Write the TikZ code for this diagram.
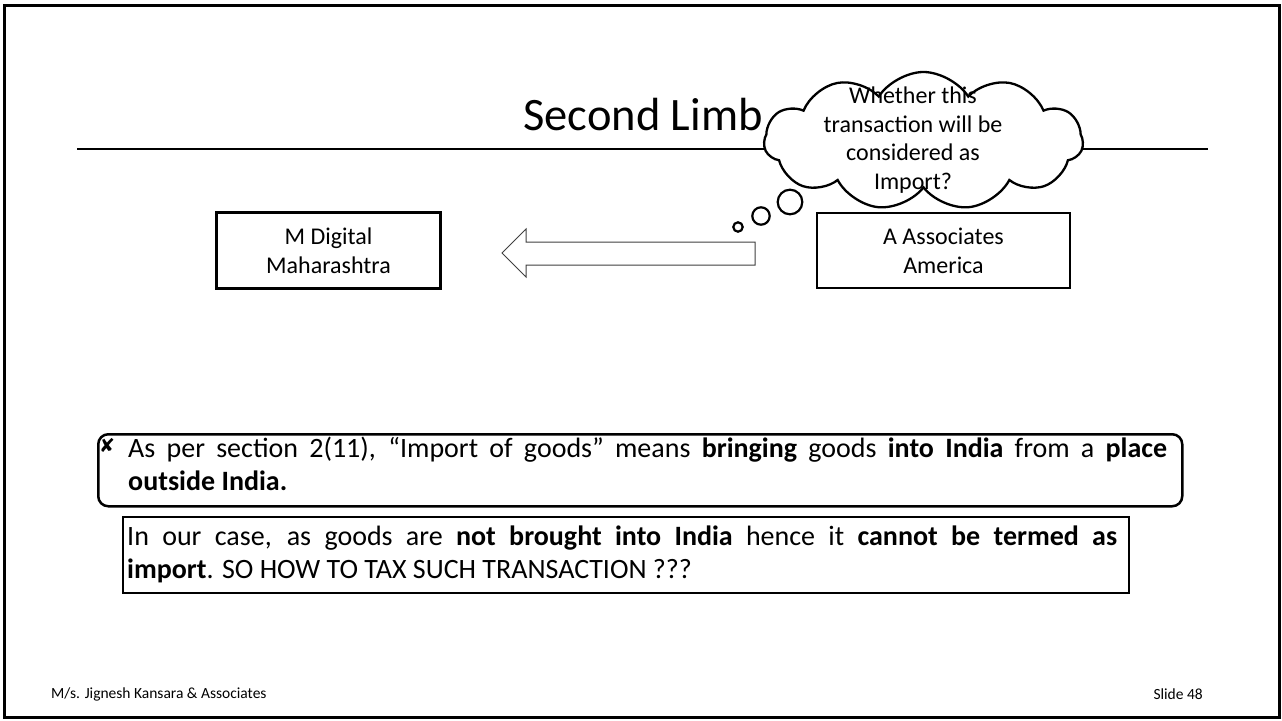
\documentclass[tikz,border=0pt]{standalone}
\usepackage{fontspec}
\setmainfont{Carlito}
\newfontfamily\symfont{DejaVu Sans}
\usetikzlibrary{shapes.symbols}

\tikzset{
  entity/.style={draw, line width=2.5pt, inner sep=0pt, align=center,
    font=\fontsize{24}{29}\selectfont},
  bubble/.style={circle, draw, line width=2.2pt, inner sep=0pt},
  blockarrow/.style={draw=black!75, line width=1pt, fill=white},
  bodytext/.style={inner sep=0pt, align=justify,
    font=\fontsize{28}{33}\selectfont},
}

\begin{document}
\begin{tikzpicture}[x=1pt, y=-1pt]
\useasboundingbox (0,0) rectangle (1282,720);

% slide frame
\draw[line width=3pt] (4.7,5.7) rectangle (1279.5,717);

% heading and rule
\node[anchor=base east, inner sep=0pt, font=\fontsize{46.5}{54}\selectfont]
  (title) at (763,130) {Second Limb};
\coordinate (ruleL) at (77,149);
\coordinate (ruleR) at (1208,149);
\draw[line width=2.6pt] (ruleL) -- (ruleR);

% thought cloud
\node[cloud, draw, fill=white, line width=2.3pt, cloud puffs=11,
  cloud puff arc=115, aspect=2.31, minimum width=319pt,
  minimum height=138pt, inner sep=0pt] (cloud) at (923.5,141) {};
\node[align=center, inner sep=0pt, font=\fontsize{24}{28.5}\selectfont]
  (cloudtext) at (913,140)
  {Whether this\\transaction will be\\considered as\\Import?};

% parties
\node[entity, minimum width=224pt, minimum height=76pt] (mdig) at (328.5,250.5)
  {M Digital\\Maharashtra};
\node[entity, minimum width=253pt, minimum height=75pt] (aassoc) at (943.5,250.5)
  {A Associates\\America};

% thought bubbles rising from A Associates
\node[bubble, minimum size=9.4pt]  (b1) at (738,227) {};
\node[bubble, minimum size=17.4pt] (b2) at (761,216) {};
\node[bubble, minimum size=24.6pt] (b3) at (790,202) {};

% block arrow pointing to M Digital
\draw[blockarrow] (755,242) -- (526,242) -- (526,229) -- (502,253)
  -- (526,277) -- (526,265) -- (755,265) -- cycle;

% definition box
\node[draw, line width=2.5pt, rounded corners=10pt, minimum width=1084pt,
  minimum height=72pt, anchor=north west, inner sep=0pt] (defbox) at (97,433) {};
\node[inner sep=0pt, font=\symfont\fontsize{19}{19}\selectfont] (cross)
  at (107,445) {✘};
\node[bodytext, text width=1039pt, anchor=north west] (deftext) at (128,437)
  {As per section 2(11), “Import of goods” means \textbf{bringing} goods
   \textbf{into India} from a \textbf{place}\linebreak \textbf{outside India.}};

% conclusion box
\node[draw, line width=1.8pt, minimum width=1006pt, minimum height=76pt,
  anchor=north west, inner sep=0pt] (concbox) at (122,516) {};
\node[bodytext, text width=990pt, anchor=north west] (conctext) at (127,526)
  {In our case, as goods are \textbf{not brought into India} hence it
   \textbf{cannot be termed as}\linebreak \textbf{import}. SO HOW TO TAX SUCH
   TRANSACTION ???};

% footer
\node[anchor=west, inner sep=0pt, font=\fontsize{15.5}{18}\selectfont]
  (footL) at (51,694) {M/s. Jignesh Kansara \& Associates};
\node[anchor=east, inner sep=0pt, font=\fontsize{15.5}{18}\selectfont]
  (footR) at (1203,694) {Slide 48};
\end{tikzpicture}
\end{document}
